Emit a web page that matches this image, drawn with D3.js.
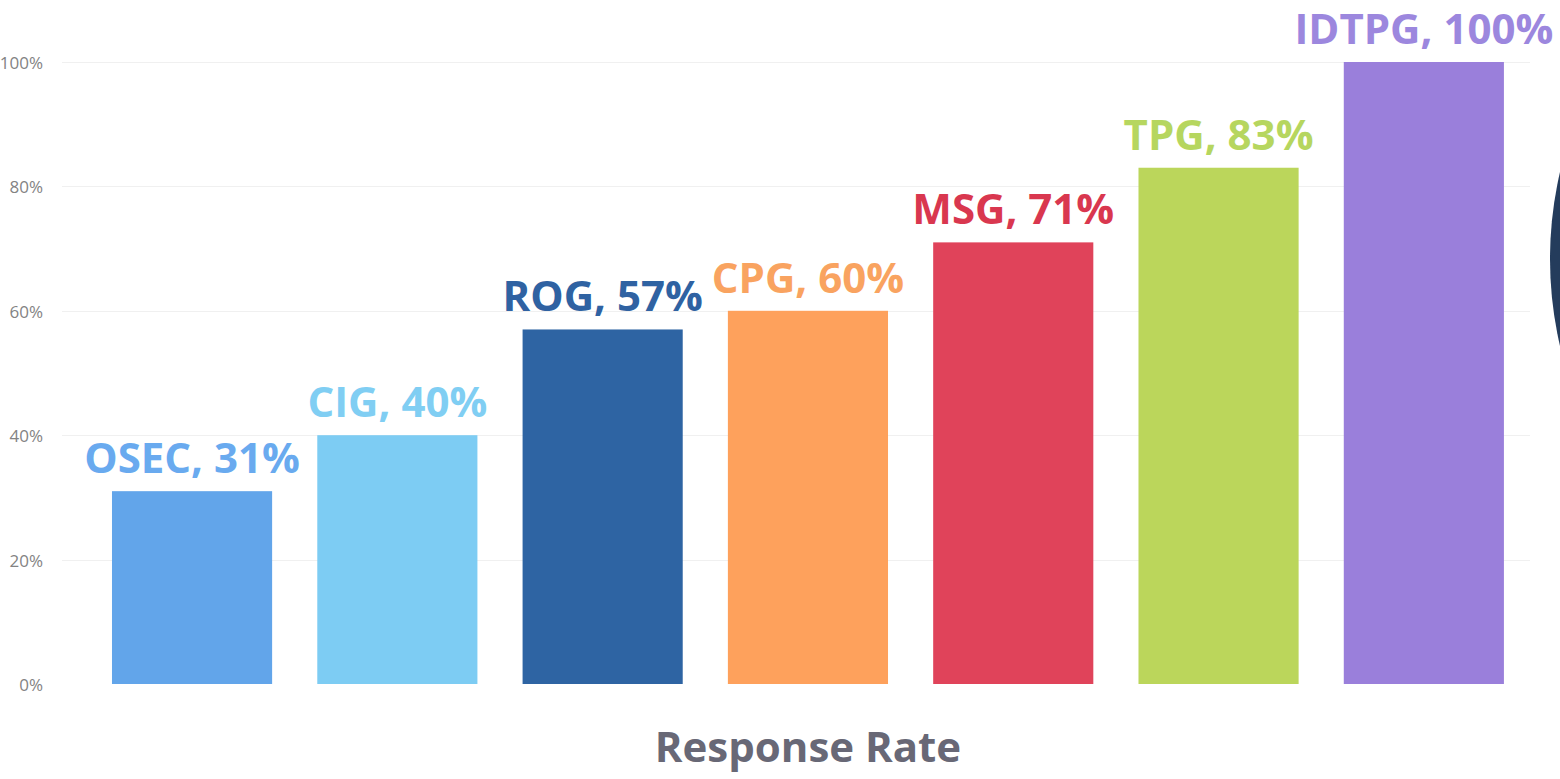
<!DOCTYPE html>
<html>
<head>
<meta charset="utf-8">
<script src="https://cdn.jsdelivr.net/npm/d3@7/dist/d3.min.js"></script>
<style>
  html, body { margin: 0; padding: 0; background: #ffffff; overflow: hidden; }
  svg { display: block; }
</style>
</head>
<body>
<svg id="chart" width="1560" height="779"></svg>
<script>
// Response rate by group
const groups = ["OSEC", "CIG", "ROG", "CPG", "MSG", "TPG", "IDTPG"];
const rates = [31, 40, 57, 60, 71, 83, 100];
const barColors = ["#62a5ea", "#7dccf3", "#2e64a3", "#fea15c", "#e0435a", "#bbd65b", "#9a7fdb"];
const labelColors = ["#69aaef", "#80cef3", "#2f62a2", "#f9a360", "#d9374f", "#b6d65f", "#9c87de"];
const yTicks = [0, 20, 40, 60, 80, 100];
const chartTitle = "Response Rate";

const svg = d3.select("#chart");

const x = d3.scaleBand()
  .domain(groups)
  .range([89.4, 1526.5])
  .paddingInner(0.22)
  .paddingOuter(0.11);

const y = d3.scaleLinear()
  .domain([0, 100])
  .range([684, 62]);

// decorative dark disc at the right edge
svg.append("circle")
  .attr("cx", 1933)
  .attr("cy", 259)
  .attr("r", 383)
  .attr("fill", "#243c5c");

// faint horizontal gridlines
svg.append("g")
  .selectAll("line")
  .data(yTicks.filter(d => d > 0))
  .join("line")
  .attr("x1", 62)
  .attr("x2", 1530)
  .attr("y1", d => Math.round(y(d)) + 0.5)
  .attr("y2", d => Math.round(y(d)) + 0.5)
  .attr("stroke", "#f0f0f0")
  .attr("stroke-width", 1);

// y axis tick labels
const yAxis = d3.axisLeft(y)
  .tickValues(yTicks)
  .tickFormat(d => d + "%")
  .tickSize(0)
  .tickPadding(0);

const gy = svg.append("g")
  .attr("transform", "translate(43,1)")
  .call(yAxis);
gy.select(".domain").remove();
gy.selectAll("text")
  .attr("font-family", "'Open Sans', sans-serif")
  .attr("font-size", 17)
  .attr("fill", "#838383");

// bars
svg.append("g")
  .selectAll("rect")
  .data(groups)
  .join("rect")
  .attr("x", d => x(d))
  .attr("width", x.bandwidth())
  .attr("y", (d, i) => y(rates[i]))
  .attr("height", (d, i) => y(0) - y(rates[i]))
  .attr("fill", (d, i) => barColors[i]);

// value labels above bars
svg.append("g")
  .selectAll("text")
  .data(groups)
  .join("text")
  .attr("x", d => x(d) + x.bandwidth() / 2)
  .attr("y", (d, i) => y(rates[i]) - 18)
  .attr("text-anchor", "middle")
  .attr("font-family", "'Open Sans', sans-serif")
  .attr("font-weight", 700)
  .attr("font-size", 42)
  .attr("fill", (d, i) => labelColors[i])
  .text((d, i) => `${d}, ${rates[i]}%`);

// chart title below the axis
svg.append("text")
  .attr("x", 808)
  .attr("y", 762)
  .attr("text-anchor", "middle")
  .attr("font-family", "'Open Sans', sans-serif")
  .attr("font-weight", 700)
  .attr("font-size", 42)
  .attr("fill", "#686876")
  .text(chartTitle);
</script>
</body>
</html>
